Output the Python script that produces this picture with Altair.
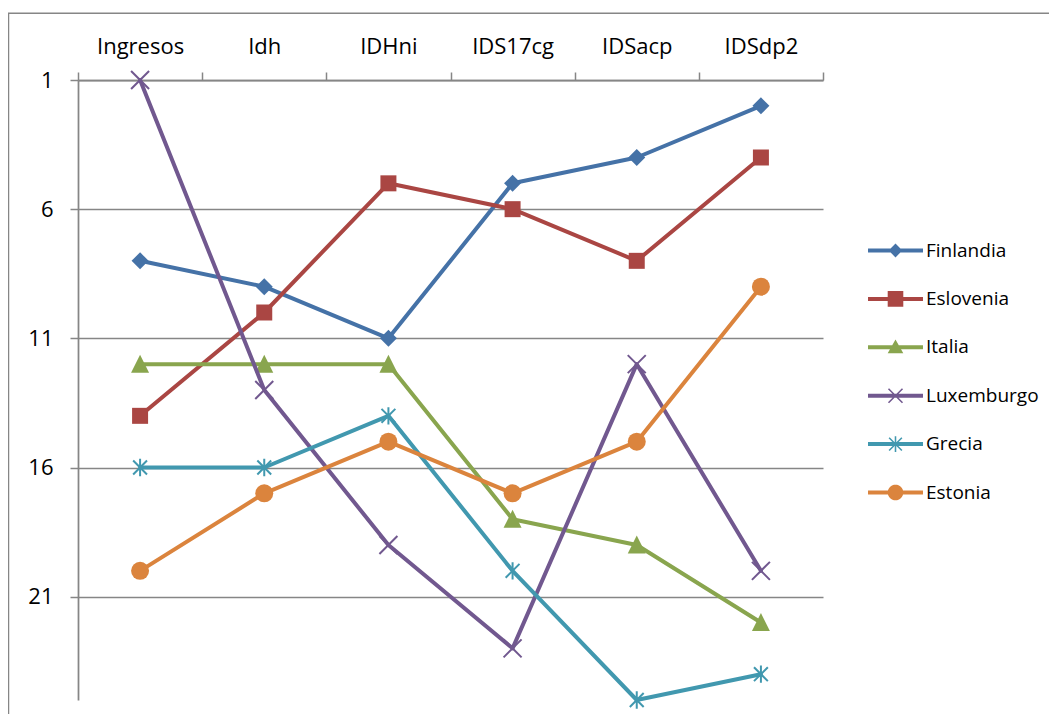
import math
import altair as alt
import pandas as pd

# ---------------- data ----------------
categorias = ["Ingresos", "Idh", "IDHni", "IDS17cg", "IDSacp", "IDSdp2"]
series = ["Finlandia", "Eslovenia", "Italia", "Luxemburgo", "Grecia", "Estonia"]
finlandia = [8, 9, 11, 5, 4, 2]
eslovenia = [14, 10, 5, 6, 8, 4]
italia = [12, 12, 12, 18, 19, 22]
luxemburgo = [1, 13, 19, 23, 12, 20]
grecia = [16, 16, 14, 20, 25, 24]
estonia = [20, 17, 15, 17, 15, 9]
ticks_y = [1, 6, 11, 16, 21]
dominio_y = [1, 25]

valores = [finlandia, eslovenia, italia, luxemburgo, grecia, estonia]
colores = ["#4572A7", "#AA4643", "#89A54E", "#71588F", "#4198AF", "#DB843D"]

rows = []
for s, vals in zip(series, valores):
    for c, v in zip(categorias, vals):
        rows.append({"serie": s, "categoria": c, "valor": v})
df = pd.DataFrame(rows)

# ---------------- marker shapes ----------------
X_PATH = "M-1,-1L1,1M-1,1L1,-1"
AST_PATH = "M-0.8,-0.8L0.8,0.8M-0.8,0.8L0.8,-0.8M0,-1L0,1"
TRI_PATH = "M0,-1.05L1,0.95L-1,0.95Z"

marcadores = [
    dict(shape="diamond", size=289, filled=True),
    dict(shape="square", size=256, filled=True),
    dict(shape=TRI_PATH, size=324, filled=True),
    dict(shape=X_PATH, size=324, filled=False),
    dict(shape=AST_PATH, size=300, filled=False),
    dict(shape="circle", size=324, filled=True),
]


def poly(pts):
    return "M" + "L".join(f"{x:.3f},{y:.3f}" for x, y in pts) + "Z"


def rect(x0, x1, y0, y1):
    return poly([(x0, y0), (x1, y0), (x1, y1), (x0, y1)])


def bar(ang, a, w):
    ux, uy = math.cos(ang), math.sin(ang)
    vx, vy = -uy, ux
    return poly([
        (-a * ux - w * vx, -a * uy - w * vy),
        (a * ux - w * vx, a * uy - w * vy),
        (a * ux + w * vx, a * uy + w * vy),
        (-a * ux + w * vx, -a * uy + w * vy),
    ])


# legend symbols: unit = 6px (symbol size 144)
L_HALF = 4.58
T_HALF = 0.33
linea = rect(-L_HALF, L_HALF, -T_HALF, T_HALF)
circ = poly([(1.3 * math.cos(2 * math.pi * k / 32), 1.3 * math.sin(2 * math.pi * k / 32)) for k in range(32)])
leyenda_paths = [
    linea + poly([(0, -1.15), (1.15, 0), (0, 1.15), (-1.15, 0)]),
    linea + rect(-1.3, 1.3, -1.3, 1.3),
    linea + poly([(0, -1.3), (1.3, 1.0), (-1.3, 1.0)]),
    linea + bar(math.pi / 4, 1.65, 0.13) + bar(-math.pi / 4, 1.65, 0.13),
    linea + bar(math.pi / 4, 1.5, 0.13) + bar(-math.pi / 4, 1.5, 0.13) + bar(math.pi / 2, 1.3, 0.13),
    linea + circ,
]

FONT = "Open Sans"
GRIS = "#868686"

x_enc = alt.X(
    "categoria:N",
    sort=categorias,
    scale=alt.Scale(type="band", domain=categorias, paddingInner=0, paddingOuter=0),
    axis=alt.Axis(
        orient="top", title=None, labelAngle=0, tickBand="extent", tickSize=8,
        labelPadding=19, labelBaseline="alphabetic", labelFont=FONT, labelFontSize=22,
        labelColor="black", domainColor=GRIS, domainWidth=1.75, tickColor=GRIS,
        tickWidth=1.5, grid=False,
    ),
)
y_enc = alt.Y(
    "valor:Q",
    scale=alt.Scale(domain=dominio_y, reverse=True, nice=False, zero=False),
    axis=alt.Axis(
        values=ticks_y, title=None, tickSize=8, labelPadding=17, labelFont=FONT,
        labelFontSize=22, labelColor="black", grid=True, gridColor=GRIS, gridWidth=1.5,
        domainColor=GRIS, domainWidth=1.75, tickColor=GRIS, tickWidth=1.5,
    ),
)

capas = []
for s, col, m in zip(series, colores, marcadores):
    base = alt.Chart(df).transform_filter(alt.datum.serie == s)
    capas.append(
        base.mark_line(color=col, strokeWidth=4, strokeJoin="round", strokeCap="round")
        .encode(x=x_enc, y=y_enc)
    )
    if m["filled"]:
        pm = base.mark_point(shape=m["shape"], size=m["size"], filled=True, color=col, opacity=1)
    else:
        pm = base.mark_point(shape=m["shape"], size=m["size"], filled=False, color=col,
                             strokeWidth=2, opacity=1)
    capas.append(pm.encode(x=x_enc, y=y_enc))

leg = alt.Legend(
    title=None, orient="none", legendX=808, legendY=161, labelFont=FONT,
    labelFontSize=19, labelColor="black", symbolSize=144, symbolStrokeWidth=0,
    rowPadding=28.4, labelOffset=21, padding=0, symbolOpacity=1,
)
leyenda = (
    alt.Chart(df)
    .transform_filter("false")
    .mark_point(filled=True, size=144, opacity=1)
    .encode(
        color=alt.Color("serie:N", scale=alt.Scale(domain=series, range=colores), legend=leg),
        shape=alt.Shape("serie:N", scale=alt.Scale(domain=series, range=leyenda_paths), legend=leg),
    )
)

borde = (
    alt.Chart(alt.Data(values=[{"b": 1}]))
    .mark_rect(fill="transparent", stroke=GRIS, strokeWidth=1.5)
    .encode(x=alt.value(-69.5), y=alt.value(-66.7), x2=alt.value(1300), y2=alt.value(1000))
)

chart = (
    alt.layer(borde, *capas, leyenda)
    .properties(
        width=745, height=620,
        autosize=alt.AutoSizeParams(type="none"),
        padding={"left": 70, "top": 72, "right": 226, "bottom": 14},
        background="white",
    )
    .configure_view(stroke=None)
)

chart.save("out.html", embed_options={"renderer": "svg", "actions": False})
